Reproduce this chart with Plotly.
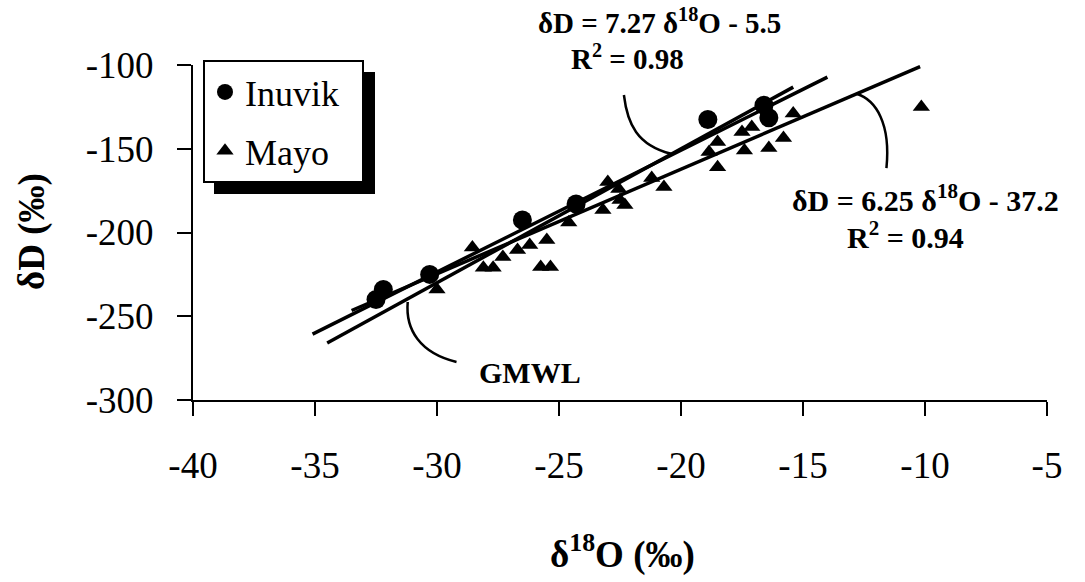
import plotly.graph_objects as go

# ---- data ----
inuvik_x = [-32.5, -32.2, -30.3, -26.5, -24.3, -18.9, -16.6, -16.4]
inuvik_y = [-240, -234, -225, -192.5, -183, -132.5, -124, -131.5]

mayo_x = [-30.0, -28.55, -28.1, -27.7, -27.3, -26.7, -26.2, -25.75, -25.5, -25.35,
          -24.6, -23.2, -23.0, -22.55, -22.3, -22.5, -21.2, -20.7, -18.85, -18.5,
          -18.5, -17.5, -17.4, -17.1, -16.4, -15.8, -15.4, -10.15]
mayo_y = [-234, -209, -221, -221, -214.6, -210.4, -207.5, -220.6, -204.5, -220.6,
          -194, -186.6, -169.9, -174, -183.6, -180.6, -167.5, -172.8, -152, -146,
          -161, -140, -151, -137, -149.6, -143.6, -129, -125]

# regression / reference lines: slope, intercept, x-extent
inuvik_fit = (7.27, -5.5, [-35.1, -14.0])
mayo_fit = (6.25, -37.2, [-33.5, -10.2])
gmwl_fit = (8.0, 10.0, [-34.5, -15.4])

series_names = ["Inuvik", "Mayo"]

x_ticks = [-40, -35, -30, -25, -20, -15, -10, -5]
x_ticktext = ["-40", "-35", "-30", "-25", "-20", "-15", "-10", "-5"]
y_ticks = [-300, -250, -200, -150, -100]
y_ticktext = ["-300", "-250", "-200", "-150", "-100"]

FONT = "Liberation Serif"
PAD = "\u00a0\u00a0"

fig = go.Figure()

for slope, icpt, xr in (inuvik_fit, mayo_fit, gmwl_fit):
    fig.add_trace(go.Scatter(
        x=xr, y=[slope * v + icpt for v in xr], mode="lines",
        line=dict(color="black", width=3.5), showlegend=False, hoverinfo="skip"))

fig.add_trace(go.Scatter(
    x=inuvik_x, y=inuvik_y, mode="markers", name=series_names[0] + PAD, legendgroup="a",
    marker=dict(symbol="circle", size=19, color="black")))
fig.add_trace(go.Scatter(
    x=mayo_x, y=mayo_y, mode="markers", name=series_names[1], legendgroup="b",
    marker=dict(symbol="triangle-up", size=15, color="black")))

# leader curves for annotations
curves = [
    "M -22.34,-117.9 C -22.2,-135 -21.8,-148 -20.4,-153",
    "M -12.8,-117.2 C -12.0,-121 -11.4,-135 -11.58,-161.5",
    "M -31.2,-241.5 C -31.3,-258 -30.7,-272 -29.2,-277.3",
]
shapes = [dict(type="path", path=p, xref="x", yref="y",
               line=dict(color="black", width=2.5)) for p in curves]


def px_x(px):
    return (px - 193) / 854.0


def px_y(py):
    return (400 - py) / 335.0


# legend shadow
shapes.append(dict(type="rect", xref="paper", yref="paper",
                   x0=px_x(214), x1=px_x(375), y0=px_y(194), y1=px_y(72),
                   fillcolor="black", line=dict(width=0), layer="above"))


def ann(px, py, text, size=30, angle=0):
    return dict(x=px_x(px), y=px_y(py), xref="paper", yref="paper", text=text,
                xanchor="center", yanchor="middle", showarrow=False, textangle=angle,
                font=dict(family=FONT, size=size, color="black"))


annotations = [
    ann(659, 21, "<b>δD = 7.27 δ<sup>18</sup>O - 5.5</b>", size=29),
    ann(627, 57, "<b>R<sup>2</sup> = 0.98</b>", size=29),
    ann(925, 198, "<b>δD = 6.25 δ<sup>18</sup>O - 37.2</b>"),
    ann(905, 235, "<b>R<sup>2</sup> = 0.94</b>"),
    ann(530, 372, "<b>GMWL</b>"),
    ann(32, 232, "<b>δD (‰)</b>", size=37, angle=-90),
    ann(622, 552, "<b>δ<sup>18</sup>O (‰)</b>", size=37),
]

axis_common = dict(showgrid=False, zeroline=False, showline=True, linecolor="black",
                   linewidth=2, ticks="outside", ticklen=14, tickwidth=2, tickcolor="black",
                   tickfont=dict(family=FONT, size=37, color="black"))

fig.update_layout(
    width=1085, height=582,
    margin=dict(l=193, r=38, t=65, b=182, autoexpand=False),
    paper_bgcolor="white", plot_bgcolor="white",
    xaxis=dict(range=[-40, -5], tickvals=x_ticks, ticktext=x_ticktext,
               ticklabelstandoff=18, **axis_common),
    yaxis=dict(range=[-300, -100], tickvals=y_ticks, ticktext=y_ticktext,
               ticklabelstandoff=16, **axis_common),
    legend=dict(x=px_x(203), y=px_y(60), xanchor="left", yanchor="top",
                bgcolor="white", bordercolor="black", borderwidth=2,
                font=dict(family=FONT, size=36, color="black"),
                tracegroupgap=9, itemwidth=30),
    shapes=shapes,
    annotations=annotations,
    showlegend=True,
)

fig.write_html("out.html")
